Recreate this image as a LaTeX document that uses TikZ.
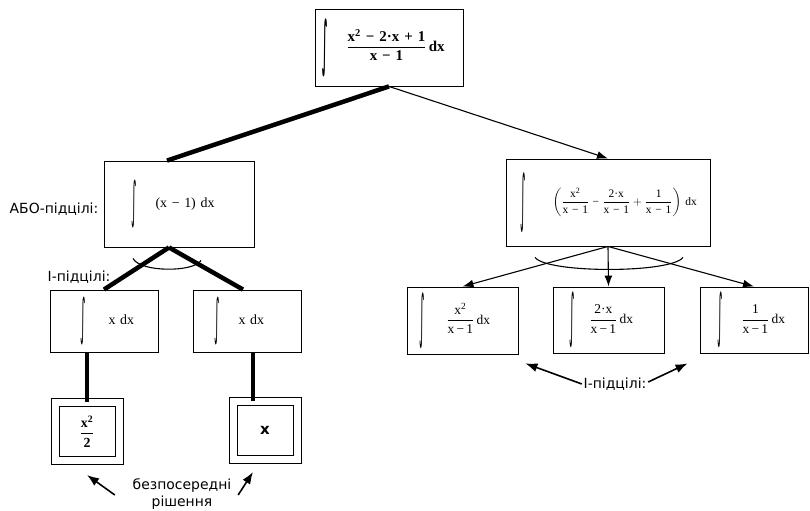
\documentclass[tikz,border=0pt]{standalone}
\usepackage{fontspec}
\usepackage{amsmath}
\setmainfont{Liberation Serif}
\newfontfamily\labelfont{DejaVu Sans}
\usetikzlibrary{arrows.meta}

% tall upright integral sign and a text fraction
\newcommand{\tallint}[1]{\ensuremath{\vcenter{\hbox{\resizebox*{5.5bp}{#1}{\labelfont ∫}}}}}
\newcommand{\fr}[2]{\ensuremath{\dfrac{\mbox{#1}}{\mbox{#2}}}}

\tikzset{
  goal/.style={draw=black,rectangle,inner sep=0pt,align=left,line width=0.9bp,
    font=\fontsize{14}{16}\selectfont},
  subgoal/.style={goal,font=\fontsize{13.5}{15}\selectfont},
  leaf/.style={draw=black,rectangle,double,double distance=7bp,line width=1bp,
    minimum width=64bp,minimum height=58bp,inner sep=0pt},
  tag/.style={font=\labelfont\fontsize{14}{18}\selectfont,align=center},
  orlink/.style={line width=4.5bp},
  hint/.style={-{Latex[length=12bp,width=9bp]},line width=1.6bp},
}

\begin{document}
\begin{tikzpicture}[>={Latex[length=11bp,width=8bp]},line width=1.1bp]
\useasboundingbox (0bp,0bp) rectangle (810bp,511bp);
%%
\node (root) at (389bp,463.5bp) [goal,text width=148bp,minimum height=77bp,font=\bfseries\fontsize{15}{17}\selectfont]
  {\hspace*{7bp}\tallint{58bp}\hspace{19bp}\fr{x\textsuperscript{2} − 2·x + 1}{x − 1}\,dx};
\node (orl) at (179bp,307bp) [goal,text width=150bp,minimum height=86bp]
  {\hspace*{27bp}\tallint{48bp}\hspace{19bp}(x\,\,−\,\,1)\,\,dx};
\node (sum) at (608bp,308.5bp) [subgoal,text width=204bp,minimum height=87bp,font=\fontsize{11.5}{13}\selectfont]
  {\hspace*{14bp}\tallint{60bp}\hspace{27bp}$\left(\fr{x\textsuperscript{2}}{x − 1}\;\mbox{−}\;\fr{2·x}{x − 1}+\fr{1}{x − 1}\right)$ dx};
\node (xl) at (104bp,190bp) [goal,text width=108bp,minimum height=62bp]
  {\hspace*{30bp}\tallint{48bp}\hspace{23bp}x dx};
\node (xr) at (247bp,190bp) [goal,text width=108bp,minimum height=62bp]
  {\hspace*{21bp}\tallint{48bp}\hspace{19bp}x dx};
\node (c1) at (462.5bp,190.5bp) [subgoal,text width=111bp,minimum height=67bp]
  {\hspace*{12bp}\tallint{56bp}\hspace{22bp}\fr{x\textsuperscript{2}}{x\,−\,1}\,dx};
\node (c2) at (608.5bp,191bp) [subgoal,text width=111bp,minimum height=66bp]
  {\hspace*{16bp}\tallint{56bp}\hspace{15bp}\fr{2·x}{x\,−\,1}\,dx};
\node (c3) at (754bp,191bp) [subgoal,text width=108bp,minimum height=66bp]
  {\hspace*{17bp}\tallint{56bp}\hspace{19bp}\fr{1}{x\,−\,1}\,dx};
\node (sl) at (87bp,79.5bp) [leaf,font=\bfseries\fontsize{14}{16}\selectfont]
  {\fr{x\textsuperscript{2}}{2}};
\node (sr) at (265bp,80.5bp) [leaf,font=\labelfont\bfseries\fontsize{15}{17}\selectfont] {x};
\node (orlab) at (54bp,302bp) [tag] {АБО-підцілі:};
\node (andlab) at (79bp,234bp) [tag] {І-підцілі:};
\node (andlab2) at (615bp,127bp) [tag] {І-підцілі:};
\node (direct) at (182bp,17bp) [tag] {безпосередні\\рішення};
%
\coordinate (orlfork) at ([xshift=-10bp]orl.south);
\coordinate (sumfork) at (sum.south);
\coordinate (srtop) at ([xshift=-12bp]sr.north);
\draw [orlink] (root.south) -- ([xshift=-12bp]orl.north);
\draw [->] (root.south) -- (sum.north);
\draw [orlink] (orlfork) -- (xl.north);
\draw [orlink] (orlfork) -- ([xshift=-4bp]xr.north);
\draw [orlink] (sl.north) -- (sl.north |- xl.south);
\draw [orlink] (srtop) -- (srtop |- xr.south);
\draw [->] (sumfork) -- (c1.north);
\draw [->] (sumfork) -- (c2.north);
\draw [->] (sumfork) -- (c3.north);
% arcs across the branches
\draw (orlfork) ++(-36bp,-11bp) .. controls +(7bp,-14bp) and +(-7bp,-12bp) .. ++(68bp,-2bp);
\draw (sumfork) ++(-73bp,-11bp) .. controls +(12bp,-16bp) and +(-12bp,-16bp) .. ++(148bp,0bp);
% pointers from the notes
\draw [hint] ([shift={(-14bp,-1bp)}]direct.west) -- ([yshift=-14bp]sl.south);
\draw [hint] ([shift={(3bp,-1bp)}]direct.east) -- ([shift={(-12bp,-12bp)}]sr.south);
\draw [hint] ([xshift=2bp]andlab2.west) -- ([shift={(7bp,-9bp)}]c1.south east);
\draw [hint] ([shift={(-2bp,2bp)}]andlab2.east) -- ([shift={(-12bp,-10bp)}]c3.south west);
%
\end{tikzpicture}
\end{document}
